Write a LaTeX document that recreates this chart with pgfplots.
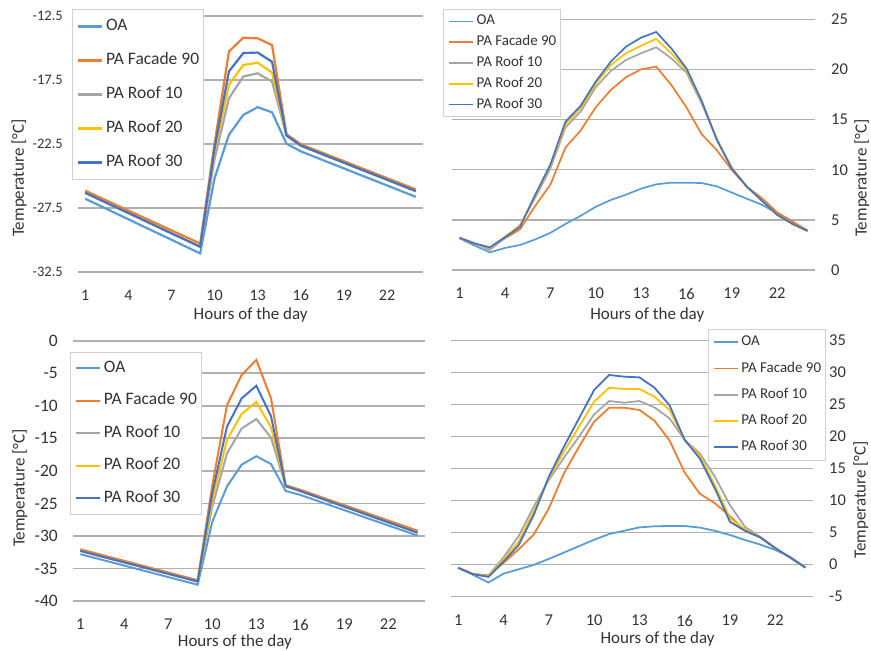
\documentclass[border=0pt]{standalone}
\usepackage{fontspec}
\setmainfont{Carlito}
\usepackage{pgfplots}
\usepackage{pgfplotstable}
\pgfplotsset{compat=1.18}

\definecolor{oac}{HTML}{5B9BD5}
\definecolor{fac}{HTML}{ED7D31}
\definecolor{r10c}{HTML}{A5A5A5}
\definecolor{r20c}{HTML}{FFC000}
\definecolor{r30c}{HTML}{4472C4}
\definecolor{gridc}{HTML}{B0B0B0}
\definecolor{txt}{HTML}{333333}
\definecolor{legbd}{HTML}{D0D0D0}

% top left
\pgfplotstableread{
h oa fac r10 r20 r30
1 -26.80 -26.17 -26.33 -26.33 -26.33
2 -27.33 -26.69 -26.86 -26.86 -26.86
3 -27.87 -27.20 -27.39 -27.39 -27.39
4 -28.40 -27.72 -27.91 -27.91 -27.91
5 -28.94 -28.24 -28.44 -28.44 -28.44
6 -29.47 -28.75 -28.97 -28.97 -28.97
7 -30.00 -29.27 -29.50 -29.50 -29.50
8 -30.54 -29.78 -30.02 -30.02 -30.02
9 -31.07 -30.30 -30.55 -30.55 -30.55
10 -25.20 -22.50 -23.70 -23.10 -22.85
11 -21.80 -15.30 -18.95 -17.90 -16.85
12 -20.25 -14.22 -17.25 -16.35 -15.42
13 -19.65 -14.27 -17.00 -16.17 -15.38
14 -20.05 -14.80 -17.65 -16.95 -16.10
15 -22.50 -21.75 -21.85 -21.85 -21.85
16 -23.10 -22.55 -22.65 -22.65 -22.65
17 -23.54 -22.99 -23.09 -23.09 -23.09
18 -23.99 -23.43 -23.54 -23.54 -23.54
19 -24.43 -23.87 -23.98 -23.98 -23.98
20 -24.88 -24.31 -24.43 -24.43 -24.43
21 -25.32 -24.75 -24.87 -24.87 -24.87
22 -25.76 -25.19 -25.31 -25.31 -25.31
23 -26.21 -25.63 -25.76 -25.76 -25.76
24 -26.65 -26.07 -26.20 -26.20 -26.20
}\tA

% top right
\pgfplotstableread{
h oa fac r10 r20 r30
1 3.16 3.22 3.25 3.20 3.20
2 2.43 2.60 2.65 2.65 2.65
3 1.76 2.20 2.00 2.20 2.26
4 2.20 3.16 3.20 3.30 3.26
5 2.49 4.05 4.50 4.45 4.30
6 3.05 6.40 7.20 7.40 7.50
7 3.70 8.50 10.10 10.40 10.50
8 4.59 12.20 14.20 14.53 14.79
9 5.40 13.90 15.79 16.12 16.36
10 6.30 16.22 18.22 18.55 18.78
11 6.98 17.95 19.85 20.45 20.78
12 7.51 19.22 20.94 21.61 22.27
13 8.11 20.01 21.61 22.37 23.17
14 8.54 20.28 22.21 23.04 23.74
15 8.71 18.45 21.11 21.61 22.10
16 8.71 16.22 19.68 19.95 20.11
17 8.67 13.55 16.62 16.80 16.90
18 8.35 11.96 13.10 13.10 13.00
19 7.72 9.97 10.20 10.15 10.10
20 7.10 8.30 8.30 8.30 8.30
21 6.50 7.15 6.90 6.90 6.90
22 5.65 5.75 5.50 5.50 5.50
23 4.75 4.85 4.60 4.60 4.60
24 3.90 3.95 3.90 3.90 3.90
}\tB

% bottom left
\pgfplotstableread{
h oa fac r10 r20 r30
1 -32.80 -32.05 -32.30 -32.30 -32.30
2 -33.39 -32.64 -32.89 -32.89 -32.89
3 -33.98 -33.24 -33.48 -33.48 -33.48
4 -34.56 -33.83 -34.06 -34.06 -34.06
5 -35.15 -34.43 -34.65 -34.65 -34.65
6 -35.74 -35.02 -35.24 -35.24 -35.24
7 -36.33 -35.61 -35.83 -35.83 -35.83
8 -36.91 -36.21 -36.41 -36.41 -36.41
9 -37.50 -36.80 -37.00 -37.00 -37.00
10 -27.80 -22.20 -25.50 -24.50 -23.40
11 -22.40 -9.90 -17.30 -15.25 -13.20
12 -19.05 -5.27 -13.50 -11.26 -8.86
13 -17.75 -2.96 -12.03 -9.42 -6.93
14 -18.95 -8.85 -14.90 -13.30 -11.60
15 -23.10 -22.20 -22.35 -22.35 -22.35
16 -23.70 -22.90 -23.10 -23.10 -23.10
17 -24.48 -23.69 -23.90 -23.90 -23.90
18 -25.26 -24.48 -24.70 -24.70 -24.70
19 -26.04 -25.26 -25.50 -25.50 -25.50
20 -26.83 -26.05 -26.30 -26.30 -26.30
21 -27.61 -26.84 -27.10 -27.10 -27.10
22 -28.39 -27.63 -27.90 -27.90 -27.90
23 -29.17 -28.41 -28.70 -28.70 -28.70
24 -29.95 -29.20 -29.50 -29.50 -29.50
}\tC

% bottom right
\pgfplotstableread{
h oa fac r10 r20 r30
1 -0.50 -0.45 -0.50 -0.50 -0.50
2 -1.60 -1.45 -1.50 -1.50 -1.50
3 -2.78 -1.65 -1.70 -1.80 -1.90
4 -1.40 0.30 1.15 0.83 0.47
5 -0.72 2.40 4.48 3.60 3.07
6 -0.03 4.70 9.06 8.30 7.76
7 0.90 8.80 13.23 13.50 13.75
8 1.90 14.27 16.72 17.66 18.44
9 2.90 18.44 20.00 21.56 22.86
10 3.90 22.34 23.49 25.47 27.29
11 4.79 24.53 25.57 27.66 29.64
12 5.31 24.53 25.31 27.45 29.38
13 5.83 24.17 25.57 27.45 29.27
14 6.00 22.50 24.58 26.25 27.66
15 6.05 19.40 22.86 24.17 24.90
16 6.05 14.40 19.50 19.48 19.50
17 5.80 11.10 17.40 17.10 16.60
18 5.30 9.60 13.75 12.40 11.90
19 4.64 7.60 9.30 7.25 6.70
20 3.86 5.30 5.90 5.50 5.30
21 3.15 4.27 4.38 4.30 4.27
22 2.30 2.55 2.60 2.60 2.60
23 1.20 1.10 1.10 1.10 1.10
24 -0.45 -0.42 -0.45 -0.45 -0.45
}\tD

\pgfplotsset{
  legend image code/.code={\draw[#1] (0pt,0pt) -- (24pt,0pt);},
  panel/.style={
    scale only axis,
    xmin=0.5, xmax=24.5,
    xtick={1,4,7,10,13,16,19,22},
    xticklabels={1,4,7,10,13,16,19,22},
    axis line style={draw=none},
    major tick length=0pt,
    ymajorgrids=true,
    tick label style={font=\fontsize{16.5}{19}\selectfont, text=txt, inner sep=0pt},
    xticklabel style={anchor=north, yshift=-18pt},
    label style={font=\fontsize{17}{20}\selectfont, text=txt},
    xlabel={Hours of the day},
    ylabel={Temperature [°C]},
    legend cell align=left,
  },
  widths/.style 2 args={
    every axis plot/.append style={line width=#1},
    grid style={draw=gridc, line width=#2},
  },
  leftpanel/.style={yticklabel style={anchor=east, xshift=-15pt}},
  rightpanel/.style={yticklabel pos=right, yticklabel style={anchor=west, xshift=16pt}},
  bigleg/.style={legend style={draw=legbd, line width=0.8pt, fill=white,
    inner xsep=4.5pt, inner ysep=9pt, row sep=18pt,
    font=\fontsize{17.5}{20}\selectfont, text=txt,
    nodes={inner sep=0pt, text height=12pt, text depth=4pt},
    /tikz/every odd column/.style={column sep=3pt}}},
  smallleg/.style={legend style={draw=legbd, line width=0.8pt, fill=white,
    inner xsep=4.5pt, inner ysep=5pt, row sep=#1,
    font=\fontsize{15}{18}\selectfont, text=txt,
    nodes={inner sep=0pt, text height=10.5pt, text depth=3.5pt},
    /tikz/every odd column/.style={column sep=3pt}}},
}

\begin{document}
\begin{tikzpicture}
\path[use as bounding box] (0pt,0pt) rectangle (871pt,651pt);

\begin{axis}[panel, leftpanel, bigleg, widths={2.2pt}{1.8pt},
  at={(78pt,379.3pt)}, anchor=south west, width=345pt, height=256pt,
  ymin=-32.5, ymax=-12.5,
  ytick={-32.5,-27.5,-22.5,-17.5,-12.5},
  yticklabels={-32.5,-27.5,-22.5,-17.5,-12.5},
  yticklabel style={font=\fontsize{14.5}{17}\selectfont},
  xticklabel style={font=\fontsize{16}{19}\selectfont},
  xlabel style={at={(axis description cs:0.5006,-0.169)}, anchor=center},
  ylabel style={at={(axis description cs:-0.171,0.366)}, anchor=center},
  legend style={at={(rel axis cs:-0.0174,1.026)}, anchor=north west}]
\addplot[oac] table[x=h, y=oa] {\tA}; \addlegendentry{OA}
\addplot[fac] table[x=h, y=fac] {\tA}; \addlegendentry{PA Facade 90}
\addplot[r10c] table[x=h, y=r10] {\tA}; \addlegendentry{PA Roof 10}
\addplot[r20c] table[x=h, y=r20] {\tA}; \addlegendentry{PA Roof 20}
\addplot[r30c] table[x=h, y=r30] {\tA}; \addlegendentry{PA Roof 30}
\end{axis}

\begin{axis}[panel, rightpanel, smallleg=6.8pt, widths={1.7pt}{1.5pt},
  at={(452pt,381pt)}, anchor=south west, width=363pt, height=250.7pt,
  ymin=0, ymax=25,
  ytick={0,5,10,15,20,25},
  yticklabels={0,5,10,15,20,25},
  xlabel style={at={(axis description cs:0.538,-0.18)}, anchor=center},
  ylabel style={at={(axis description cs:1.129,0.367)}, anchor=center},
  legend style={at={(rel axis cs:-0.0248,1.041)}, anchor=north west}]
\addplot[oac] table[x=h, y=oa] {\tB}; \addlegendentry{OA}
\addplot[fac] table[x=h, y=fac] {\tB}; \addlegendentry{PA Facade 90}
\addplot[r10c] table[x=h, y=r10] {\tB}; \addlegendentry{PA Roof 10}
\addplot[r20c] table[x=h, y=r20] {\tB}; \addlegendentry{PA Roof 20}
\addplot[r30c] table[x=h, y=r30] {\tB}; \addlegendentry{PA Roof 30}
\end{axis}

\begin{axis}[panel, leftpanel, bigleg, widths={2pt}{1.7pt},
  at={(73pt,50pt)}, anchor=south west, width=352pt, height=260.3pt,
  ymin=-40, ymax=0,
  ytick={-40,-35,-30,-25,-20,-15,-10,-5,0},
  yticklabels={-40,-35,-30,-25,-20,-15,-10,-5,0},
  yticklabel style={font=\fontsize{17.5}{20}\selectfont},
  xlabel style={at={(axis description cs:0.46,-0.156)}, anchor=center},
  ylabel style={at={(axis description cs:-0.151,0.434)}, anchor=center},
  legend style={at={(rel axis cs:-0.0085,0.9566)}, anchor=north west, row sep=16.6pt, inner ysep=7.7pt}]
\addplot[oac] table[x=h, y=oa] {\tC}; \addlegendentry{OA}
\addplot[fac] table[x=h, y=fac] {\tC}; \addlegendentry{PA Facade 90}
\addplot[r10c] table[x=h, y=r10] {\tC}; \addlegendentry{PA Roof 10}
\addplot[r20c] table[x=h, y=r20] {\tC}; \addlegendentry{PA Roof 20}
\addplot[r30c] table[x=h, y=r30] {\tC}; \addlegendentry{PA Roof 30}
\end{axis}

\begin{axis}[panel, rightpanel, smallleg=12.2pt, widths={1.8pt}{1.6pt},
  at={(450.7pt,54.3pt)}, anchor=south west, width=362.3pt, height=256pt,
  ymin=-5, ymax=35,
  ytick={-5,0,5,10,15,20,25,30,35},
  yticklabels={-5,0,5,10,15,20,25,30,35},
  xlabel style={at={(axis description cs:0.571,-0.165)}, anchor=center},
  ylabel style={at={(axis description cs:1.132,0.378)}, anchor=center},
  legend style={at={(rel axis cs:1.036,1.0457)}, anchor=north east, inner ysep=6pt}]
\addplot[oac] table[x=h, y=oa] {\tD}; \addlegendentry{OA}
\addplot[fac] table[x=h, y=fac] {\tD}; \addlegendentry{PA Facade 90}
\addplot[r10c] table[x=h, y=r10] {\tD}; \addlegendentry{PA Roof 10}
\addplot[r20c] table[x=h, y=r20] {\tD}; \addlegendentry{PA Roof 20}
\addplot[r30c] table[x=h, y=r30] {\tD}; \addlegendentry{PA Roof 30}
\end{axis}
\end{tikzpicture}
\end{document}
